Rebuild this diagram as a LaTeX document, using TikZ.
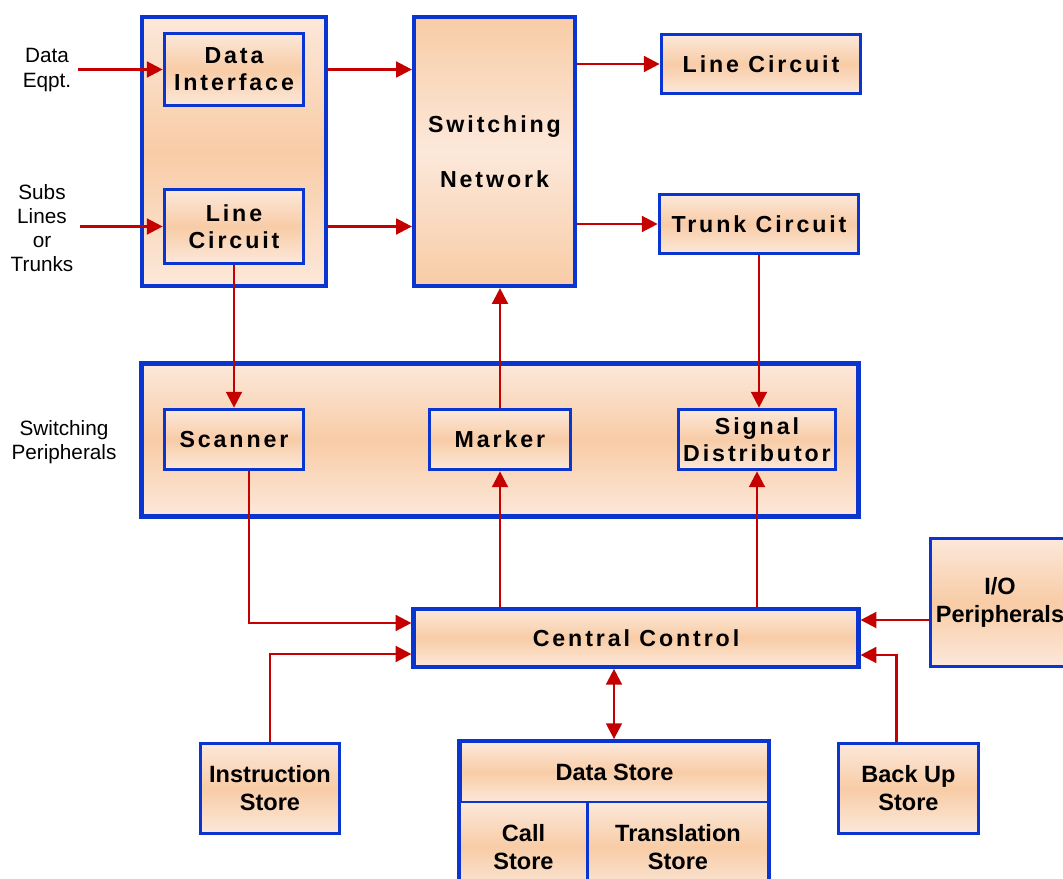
\documentclass[tikz,border=0pt]{standalone}
\usepackage{fontspec}
\setmainfont{Liberation Sans}
\newfontfamily\spcfont[LetterSpace=12.5]{Liberation Sans}
\usetikzlibrary{arrows.meta, positioning, calc, fit}
\definecolor{cborder}{HTML}{0A36CF}
\definecolor{cline}{HTML}{C40000}
\definecolor{cpale}{HTML}{FCE8DA}
\definecolor{cpeach}{HTML}{F8CCA6}
\tikzset{
  every picture/.style={line width=1.4pt},
  box/.style={draw=cborder, line width=2.1pt, top color=cpale, bottom color=cpale, middle color=cpeach, align=center, inner sep=0pt},
  grp/.style={box, line width=2.4pt},
  cell/.style={box, line width=1.2pt},
  spaced/.style={font=\spcfont\bfseries\fontsize{13.2}{15.5}\selectfont},
  plain/.style={font=\bfseries\fontsize{13.4}{15.9}\selectfont},
  lbl/.style={font=\fontsize{11.8}{13.8}\selectfont, align=center},
  arrow/.style={-{Triangle[length=9pt, width=9pt]}, draw=cline, line width=1.4pt},
  dbl/.style={arrow, {Triangle[length=9pt, width=9pt]}-{Triangle[length=9pt, width=9pt]}},
}

\begin{document}
\begin{tikzpicture}[x=0.02cm, y=-0.02cm]
  \useasboundingbox (0,0) rectangle (1063,879);
  % interface side
  \node[grp, minimum width=3.68cm, minimum height=5.38cm] (ifc) at (234,151.5) {};
  \node[box, spaced, minimum width=2.78cm, minimum height=1.44cm] (dif) at (234,69.5) {Data\\Interface};
  \node[box, spaced, minimum width=2.78cm, minimum height=1.48cm] (lcl) at (234,226.5) {Line\\Circuit};
  \node[box, spaced, line width=2.4pt, top color=cpeach, bottom color=cpeach, middle color=cpale,
        minimum width=3.22cm, minimum height=5.38cm] (swn) at (494.5,151.5) {Switching\\[16pt]Network};
  \node[box, spaced, minimum width=3.98cm, minimum height=1.18cm] (lcr) at (761,64) {Line Circuit};
  \node[box, spaced, minimum width=3.98cm, minimum height=1.18cm] (trk) at (759,224) {Trunk Circuit};
  \node[lbl] (deq) at (47,70) {Data\\Eqpt.};
  \node[lbl] (subs) at (42,228) {Subs\\Lines\\or\\Trunks};
  % switching peripherals
  \node[grp, minimum width=14.34cm, minimum height=3.06cm] (per) at (500,440) {};
  \node[lbl] (speri) at (64,442) {Switching\\Peripherals};
  \node[box, spaced, minimum width=2.78cm, minimum height=1.2cm] (scn) at (234,439.5) {Scanner};
  \node[box, spaced, minimum width=2.82cm, minimum height=1.2cm] (mrk) at (500,439.5) {Marker};
  \node[box, spaced, minimum width=3.14cm, minimum height=1.2cm] (sig) at (757,439.5) {Signal\\Distributor};
  % control and stores
  \node[box, spaced, line width=2.4pt, minimum width=8.9cm, minimum height=1.15cm] (cc) at (636,638) {Central Control};
  \node[box, plain, minimum width=2.78cm, minimum height=2.56cm] (io) at (1000,602.5) {I/O\\Peripherals};
  \node[box, plain, minimum width=2.78cm, minimum height=1.8cm] (ins) at (270,788.5) {Instruction\\Store};
  \node[box, plain, minimum width=2.8cm, minimum height=1.8cm] (bup) at (908.5,788.5) {Back Up\\Store};
  \node[cell, plain, minimum width=6.14cm, minimum height=1.2cm] (dst) at (614.5,772) {Data Store};
  \node[cell, plain, minimum width=2.54cm, minimum height=1.8cm] (cst) at (523.5,847) {Call\\Store};
  \node[cell, plain, minimum width=3.6cm, minimum height=1.8cm] (tst) at (678,847) {Translation\\Store};
  \node[draw=cborder, line width=2.1pt, inner sep=0pt, fit=(dst)(cst)(tst)] (dall) {};
  % connections
  \draw[arrow] (deq.east |- dif) -- (dif.west);
  \draw[arrow] (subs.east |- lcl) -- (lcl.west);
  \draw[arrow] (ifc.east |- dif) -- (swn.west |- dif);
  \draw[arrow] (ifc.east |- lcl) -- (swn.west |- lcl);
  \draw[arrow] (swn.east |- lcr) -- (lcr.west);
  \draw[arrow] (swn.east |- trk) -- (trk.west);
  \draw[arrow] (lcl.south) -- (scn.north);
  \draw[arrow] (mrk.north) -- (mrk.north |- swn.south);
  \draw[arrow] (trk.south) -- (trk.south |- sig.north);
  \draw[arrow] ($(scn.south)+(15,0)$) |- ($(cc.west)+(0,-15)$);
  \draw[arrow] (ins.north) |- ($(cc.west)+(0,16)$);
  \draw[arrow] (cc.north -| mrk) -- (mrk.south);
  \draw[arrow] (cc.north -| sig) -- (sig.south);
  \coordinate (ccio) at ($(cc.east)+(0,-18)$);
  \draw[arrow] (io.west |- ccio) -- (ccio);
  \draw[arrow] ($(bup.north)+(-12,0)$) |- ($(cc.east)+(0,17)$);
  \draw[dbl] (cc.south -| dall.north) -- (dall.north);
\end{tikzpicture}
\end{document}
